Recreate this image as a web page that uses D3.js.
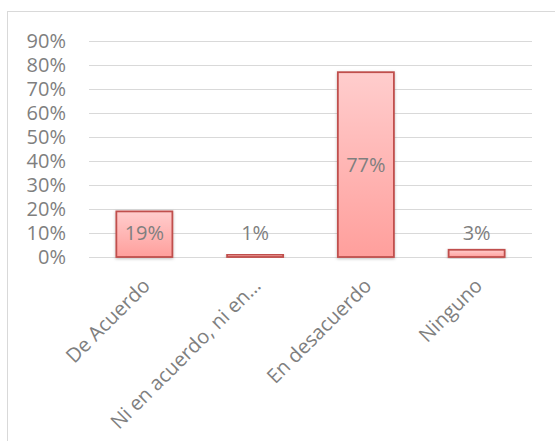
<!DOCTYPE html>
<html>
<head>
<meta charset="utf-8">
<script src="https://cdn.jsdelivr.net/npm/d3@7"></script>
<style>
  body { margin: 0; background: #fff; }
  text { font-family: "Open Sans", sans-serif; fill: #7f7f7f; }
</style>
</head>
<body>
<svg id="chart" width="555" height="441"></svg>
<script>
let categories = ["De Acuerdo", "Ni en acuerdo, ni en…", "En desacuerdo", "Ninguno"]
let values = [0.19, 0.01, 0.77, 0.03]
let yTicks = [0, 0.1, 0.2, 0.3, 0.4, 0.5, 0.6, 0.7, 0.8, 0.9]

let plotLeft = 89, plotRight = 532, plotTop = 41, plotBottom = 257
let font = "'Open Sans', sans-serif"

let x = d3.scaleBand().domain(categories).range([plotLeft, plotRight])
    .paddingInner(0.494).paddingOuter(0.247)
let y = d3.scaleLinear().domain([0, 0.9]).range([plotBottom, plotTop])
let pct = d3.format(".0%")

let svg = d3.select("#chart")

// chart area border
svg.append("rect")
    .attr("x", 7.5).attr("y", 11.5)
    .attr("width", 600).attr("height", 500)
    .attr("fill", "#fff")
    .attr("stroke", "#d9d9d9")

let defs = svg.append("defs")
let grad = defs.append("linearGradient")
    .attr("id", "barFill")
    .attr("x1", 0).attr("y1", 0).attr("x2", 0).attr("y2", 1)
grad.append("stop").attr("offset", "0%").attr("stop-color", "#ffcdcd")
grad.append("stop").attr("offset", "100%").attr("stop-color", "#ff9f9c")

let shadow = defs.append("filter").attr("id", "shadow")
    .attr("x", "-20%").attr("y", "-20%").attr("width", "140%").attr("height", "140%")
shadow.append("feDropShadow")
    .attr("dx", 0).attr("dy", 1).attr("stdDeviation", 1.5)
    .attr("flood-color", "#000").attr("flood-opacity", 0.25)

let axisY = d3.axisLeft(y)
    .tickValues(yTicks)
    .tickFormat(pct)
    .tickSize(-(plotRight - plotLeft))
    .tickPadding(23)

let gy = svg.append("g")
    .attr("transform", `translate(${plotLeft},0)`)
    .call(axisY)
gy.select(".domain").remove()
gy.selectAll(".tick line").attr("stroke", "#d9d9d9").attr("stroke-width", 1.2)
gy.selectAll(".tick text")
    .attr("font-size", 20)
    .style("font-family", font)
    .attr("fill", "#7f7f7f")

svg.append("g")
    .selectAll("rect")
    .data(values)
    .join("rect")
    .attr("x", (d, i) => x(categories[i]))
    .attr("width", x.bandwidth())
    .attr("y", d => y(d))
    .attr("height", d => plotBottom - y(d))
    .attr("fill", "url(#barFill)")
    .attr("stroke", "#c0504d")
    .attr("stroke-width", 1.8)
    .attr("filter", "url(#shadow)")

svg.append("g")
    .selectAll("text")
    .data(values)
    .join("text")
    .attr("x", (d, i) => x(categories[i]) + x.bandwidth() / 2)
    .attr("y", d => y(Math.max(d / 2, 0.1)))
    .attr("dy", "0.35em")
    .attr("text-anchor", "middle")
    .attr("font-size", 20)
    .text(d => pct(d))

let axisX = d3.axisBottom(x).tickSize(0)
let gx = svg.append("g")
    .attr("transform", `translate(0,${plotBottom})`)
    .call(axisX)
gx.select(".domain").remove()
gx.selectAll(".tick text")
    .attr("x", 0).attr("y", 0).attr("dy", 0)
    .attr("text-anchor", "end")
    .attr("transform", "translate(7,30) rotate(-45)")
    .attr("font-size", 20)
    .style("font-family", font)
    .attr("fill", "#7f7f7f")
</script>
</body>
</html>
